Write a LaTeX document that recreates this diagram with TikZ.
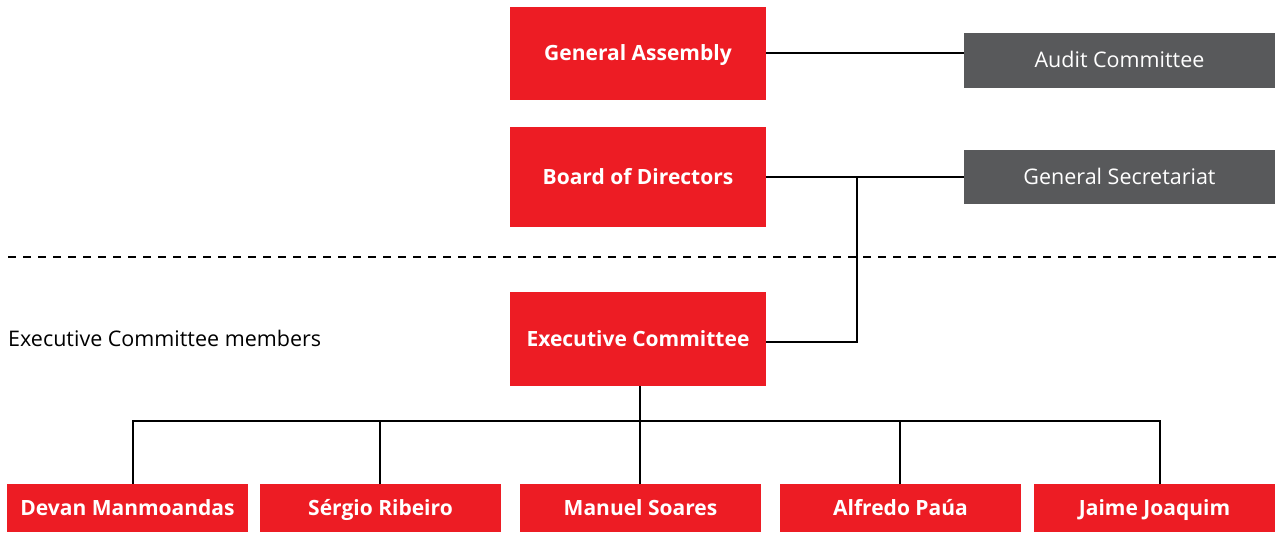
\documentclass[tikz,border=0pt]{standalone}
\usepackage{fontspec}
\setmainfont{Open Sans}
\definecolor{brandred}{HTML}{ED1C24}
\definecolor{panelgray}{HTML}{58595B}
\begin{document}
\begin{tikzpicture}[x=1pt,y=-1pt,
  boxtext/.style={inner sep=0pt,text height=15pt,text depth=0pt,text=white},
  redbox/.style={boxtext,fill=brandred,draw=none,
    font=\fontsize{21}{24}\selectfont\bfseries,minimum width=256pt},
  graybox/.style={boxtext,fill=panelgray,draw=none,
    font=\fontsize{21.5}{24}\selectfont,minimum width=311pt},
  member/.style={boxtext,fill=brandred,draw=none,
    font=\fontsize{21}{24}\selectfont\bfseries,minimum width=241pt,minimum height=48pt},
  conn/.style={draw=black,line width=2pt},
  divider/.style={draw=black,line width=2pt,dash pattern=on 8pt off 7pt}]
\useasboundingbox (0,0) rectangle (1276,534);

% governing bodies
\node[redbox,minimum height=93pt] (ga) at (638,53.5) {General Assembly};
\node[redbox,minimum height=100pt] (board) at (638,177) {Board of Directors};
\node[redbox,minimum height=94pt] (exec) at (638,339) {Executive Committee};

% supporting bodies
\node[graybox,minimum height=55pt] (audit) at (1119.5,60.5) {Audit Committee};
\node[graybox,minimum height=54pt] (sec) at (1119.5,177) {General Secretariat};

% divider between board level and executive level
\coordinate (dl) at (8,257);
\coordinate (dr) at (1276,257);
\draw[divider] (dl) -- (dr);

\node[anchor=west,inner sep=0pt,text height=15pt,text depth=0pt,
  font=\fontsize{21.5}{24}\selectfont] (label) at (8,339) {Executive Committee members};

% executive committee members
\node[member] (devan) at (127.5,508) {Devan Manmoandas};
\node[member] (sergio) at (380.5,508) {Sérgio Ribeiro};
\node[member] (manuel) at (640.5,508) {Manuel Soares};
\node[member] (alfredo) at (900.5,508) {Alfredo Paúa};
\node[member] (jaime) at (1154.5,508) {Jaime Joaquim};

% connectors
\draw[conn] (ga.east) -- (ga.east -| audit.west);
\draw[conn] (board.east) -- (sec.west);
\coordinate (junction) at (857,177);
\draw[conn] ([yshift=-3pt]exec.east) -| (junction);

\coordinate (bus) at (640,421);
\draw[conn] (exec.south -| bus) -- (bus);
\draw[conn] ([xshift=5.5pt]devan.north) |- (bus) -| ([xshift=5.5pt]jaime.north);
\draw[conn] ([xshift=-0.5pt]sergio.north) -- ([xshift=-0.5pt]sergio.north |- bus);
\draw[conn] ([xshift=-0.5pt]manuel.north) -- ([xshift=-0.5pt]manuel.north |- bus);
\draw[conn] ([xshift=-0.5pt]alfredo.north) -- ([xshift=-0.5pt]alfredo.north |- bus);
\end{tikzpicture}
\end{document}
